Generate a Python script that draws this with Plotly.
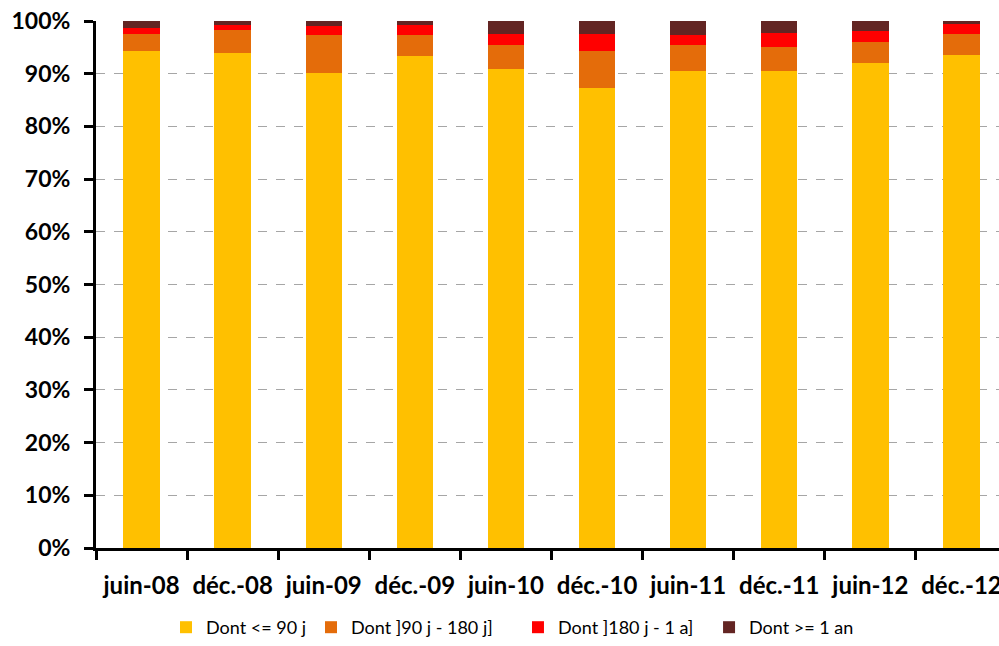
import plotly.graph_objects as go

# Semester labels
periods = ["juin-08", "déc.-08", "juin-09", "déc.-09", "juin-10",
           "déc.-10", "juin-11", "déc.-11", "juin-12", "déc.-12"]

# Share of receivables by age bucket (%)
upto_90d = [94.4, 94.0, 90.1, 93.3, 90.9, 87.2, 90.6, 90.5, 92.0, 93.6]
d90_180 = [3.2, 4.2, 7.3, 4.0, 4.6, 7.2, 4.9, 4.6, 4.0, 4.0]
d180_1y = [1.0, 1.0, 1.7, 1.9, 2.0, 3.1, 1.9, 2.6, 2.1, 1.8]
over_1y = [1.4, 0.8, 0.9, 0.8, 2.5, 2.5, 2.6, 2.3, 1.9, 0.6]

series = [
    ("Dont <= 90 j", upto_90d, "#FFC000"),
    ("Dont ]90 j - 180 j]", d90_180, "#E46C0A"),
    ("Dont ]180 j - 1 a]", d180_1y, "#FF0000"),
    ("Dont >= 1 an", over_1y, "#632523"),
]

# one legend box per series, laid out in a row under the axis
legend_ids = ["legend", "legend2", "legend3", "legend4"]
legend_x = [0.0775, 0.2381, 0.4673, 0.6789]

fig = go.Figure()
for (name, vals, color), lid in zip(series, legend_ids):
    fig.add_trace(go.Bar(
        x=periods, y=[v / 100 for v in vals], name=name,
        marker=dict(color=color, line=dict(width=0)),
        legend=lid,
    ))

legend_style = dict(
    orientation="h", xanchor="left",
    yref="container", y=0, yanchor="bottom",
    font=dict(size=18, family="Lato, sans-serif", color="black"),
    bgcolor="rgba(0,0,0,0)", borderwidth=0,
)
legends = {lid: dict(legend_style, x=lx) for lid, lx in zip(legend_ids, legend_x)}

fig.update_layout(
    barmode="stack",
    bargap=0.6,
    width=999, height=646,
    margin=dict(l=96, r=0, t=21, b=98, autoexpand=False),
    paper_bgcolor="white", plot_bgcolor="white",
    font=dict(family="Lato, 'Open Sans', sans-serif", color="black"),
    showlegend=True,
    **legends,
    xaxis=dict(
        type="category", range=[-0.5, 9.412],
        showline=True, linecolor="black", linewidth=3,
        ticks="outside", ticklen=9, tickwidth=2.5, tickcolor="black",
        tickson="boundaries", showgrid=False, automargin=False,
        ticklabelstandoff=14,
        tickfont=dict(size=24, family="Lato", weight="bold"),
    ),
    yaxis=dict(
        range=[0, 1.0], tickformat=".0%", dtick=0.1,
        showline=True, linecolor="black", linewidth=3,
        ticks="outside", ticklen=9, tickwidth=2.5, tickcolor="black",
        showgrid=True, gridcolor="#A6A6A6", gridwidth=1.3, griddash="dash",
        zeroline=False, automargin=False,
        ticklabelstandoff=9,
        tickfont=dict(size=23, family="Lato", weight="bold"),
    ),
)

fig.write_html("out.html")
